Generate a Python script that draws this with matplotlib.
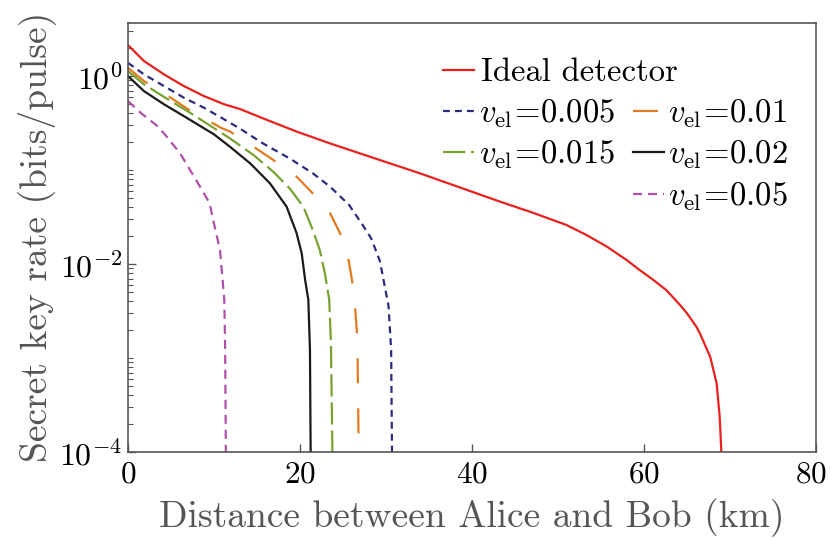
import matplotlib
matplotlib.use("Agg")
import matplotlib.pyplot as plt
import matplotlib.transforms as mtransforms
from matplotlib.ticker import LogLocator, NullFormatter, FixedLocator
from matplotlib.lines import Line2D

plt.rcParams['font.family'] = 'serif'
plt.rcParams['font.serif'] = ['cmr10', 'DejaVu Serif']
plt.rcParams['mathtext.fontset'] = 'cm'
plt.rcParams['axes.formatter.use_mathtext'] = True
plt.rcParams['lines.scale_dashes'] = False

# ---- data (distance in km, secret key rate in bits/pulse) ----
d_ideal = [0, 1.86, 4.19, 6.5, 8.84, 11.2, 13.0, 15.7, 19.6, 23.5, 28.1, 33.95, 43.3, 47.1, 51.0,
           53.3, 55.7, 58.0, 59.5, 61.1, 62.6, 64.2, 65.0, 66.1, 66.5, 67.7, 68.45, 68.8, 69.0]
k_ideal = [2.138, 1.445, 1.042, 0.783, 0.612, 0.501, 0.447, 0.355, 0.257, 0.192, 0.139, 0.0923,
           0.0460, 0.0351, 0.0260, 0.0204, 0.0153, 0.0110, 0.00863, 0.00676, 0.00528, 0.00366,
           0.00299, 0.00215, 0.00183, 0.00103, 0.000537, 0.00024, 0.0001]

d_005 = [0, 1.86, 4.19, 6.5, 8.84, 10.8, 13.0, 15.7, 18.8, 21.5, 23.5, 25.7, 27.4, 28.3, 29.3,
         30.3, 30.6, 30.7]
k_005 = [1.384, 1.042, 0.783, 0.589, 0.460, 0.363, 0.277, 0.192, 0.133, 0.0923, 0.0665, 0.0427,
         0.0251, 0.0186, 0.0107, 0.00355, 0.00122, 0.0001]

d_01 = [0, 1.86, 4.96, 6.9, 10.8, 11.86, 14.6, 16.9, 19.6, 21.3, 23.5, 24.65, 25.6, 26.05, 26.4,
        26.6, 26.7, 26.8, 26.85]
k_01 = [1.225, 0.885, 0.589, 0.449, 0.282, 0.257, 0.177, 0.128, 0.0851, 0.0589, 0.0347, 0.0214,
        0.0117, 0.00676, 0.00355, 0.00200, 0.00102, 0.00017, 0.0001]

d_015 = [0, 1.86, 4.96, 6.9, 10.8, 11.86, 14.6, 16.9, 18.8, 20.4, 21.5, 22.3, 22.9, 23.4, 23.6, 23.77]
k_015 = [1.130, 0.817, 0.542, 0.425, 0.251, 0.217, 0.1445, 0.0959, 0.0638, 0.0407, 0.0229, 0.0141,
         0.00794, 0.00417, 0.00145, 0.0001]

d_02 = [0, 1.86, 4.19, 6.5, 10.0, 11.86, 14.2, 16.5, 18.45, 19.6, 20.2, 20.6, 20.97, 21.16, 21.24]
k_02 = [1.0, 0.692, 0.501, 0.375, 0.240, 0.177, 0.118, 0.0724, 0.0407, 0.0214, 0.0130, 0.00676,
        0.00417, 0.00122, 0.0001]

d_05 = [0, 1.47, 3.4, 4.38, 6.05, 8.4, 9.5, 9.9, 10.7, 11.2, 11.3, 11.38]
k_05 = [0.542, 0.407, 0.295, 0.234, 0.151, 0.0661, 0.0443, 0.0295, 0.0141, 0.00417, 0.00122, 0.0001]

labels = ['Ideal detector', r'$v_{\mathrm{el}}\!=\!0.005$', r'$v_{\mathrm{el}}\!=\!0.01$',
          r'$v_{\mathrm{el}}\!=\!0.015$', r'$v_{\mathrm{el}}\!=\!0.02$', r'$v_{\mathrm{el}}\!=\!0.05$']
xticks = [0, 20, 40, 60, 80]
yticks = [1e-4, 1e-2, 1e0]

fig = plt.figure(figsize=(8.3, 5.38), dpi=100)
ax = fig.add_axes([0.1542, 0.1599, 0.9831 - 0.1542, 0.9578 - 0.1599])

l_ideal, = ax.plot(d_ideal, k_ideal, color='#E8211D', lw=1.6)
l_005, = ax.plot(d_005, k_005, color='#2A2D7E', lw=1.6, dashes=(5, 3.6))
l_01, = ax.plot(d_01, k_01, color='#E07B1F', lw=1.6, dashes=(18, 18))
l_015, = ax.plot(d_015, k_015, color='#78A230', lw=1.6, dashes=(16, 4.3))
l_02, = ax.plot(d_02, k_02, color='#1A1A1A', lw=1.6)
l_05, = ax.plot(d_05, k_05, color='#B04FAA', lw=1.6, dashes=(6.5, 4.3))

ax.set_yscale('log')
ax.set_xlim(0, 80)
ax.set_ylim(1e-4, 3.7)
ax.xaxis.set_major_locator(FixedLocator(xticks))
ax.yaxis.set_major_locator(FixedLocator(yticks))
ax.yaxis.set_minor_locator(LogLocator(base=10, subs=[1, 2, 3, 4, 5, 6, 7, 8, 9], numticks=20))
ax.yaxis.set_minor_formatter(NullFormatter())

for sp in ax.spines.values():
    sp.set_color('#555555')
    sp.set_linewidth(1.2)
ax.tick_params(axis='both', which='major', direction='in', length=6, width=1, color='#555555',
               top=False, right=False)
ax.tick_params(axis='x', which='major', labelsize=22.5, pad=6)
ax.tick_params(axis='y', which='major', labelsize=23, pad=4)
ax.tick_params(axis='y', which='minor', direction='in', length=3.5, width=0.8, color='#555555',
               right=False)
ax.tick_params(axis='x', which='minor', bottom=False)

# nudge the last x tick label so it stays inside the figure
fig.canvas.draw()
last = ax.get_xticklabels()[-1]
last.set_transform(last.get_transform() + mtransforms.ScaledTranslation(-5 / 100, 0, fig.dpi_scale_trans))

ax.set_xlabel('Distance between Alice and Bob (km)', fontsize=27, color='#555555', labelpad=7)
ax.set_ylabel('Secret key rate (bits/pulse)', fontsize=27, color='#555555', labelpad=2)

fs = 23.5
leg1 = ax.legend([l_ideal], [labels[0]], loc='upper left', bbox_to_anchor=(0.458, 0.918),
                 frameon=False, fontsize=fs, handlelength=0.95, handletextpad=0.2,
                 borderaxespad=0, borderpad=0)
ax.add_artist(leg1)
blank = Line2D([], [], color='none')
ax.legend([l_005, l_015, blank, l_01, l_02, l_05],
          [labels[1], labels[3], ' ', labels[2], labels[4], labels[5]],
          ncol=2, loc='upper left', bbox_to_anchor=(0.458, 0.827), frameon=False, fontsize=fs,
          handlelength=0.95, handletextpad=0.15, columnspacing=0.53, labelspacing=0.28,
          borderaxespad=0, borderpad=0)

fig.savefig('out.png', dpi=100)
